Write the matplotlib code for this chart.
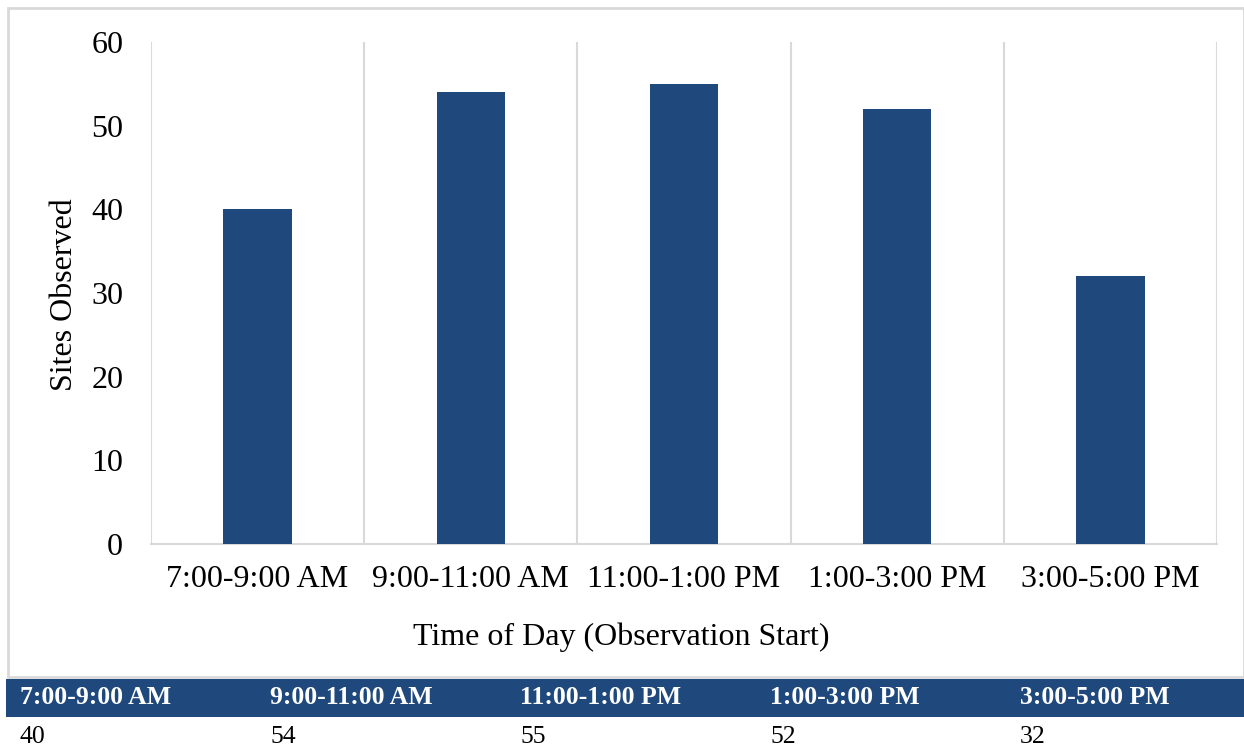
import matplotlib.pyplot as plt
from matplotlib.patches import Rectangle

# 시간대별 관측 사이트 수
time_slots = ['7:00-9:00 AM', '9:00-11:00 AM', '11:00-1:00 PM', '1:00-3:00 PM', '3:00-5:00 PM']
sites_observed = [40, 54, 55, 52, 32]
y_ticks = [0, 10, 20, 30, 40, 50, 60]

bar_color = '#1F497D'
grid_color = '#D9D9D9'

plt.rcParams['font.family'] = ['Liberation Serif', 'DejaVu Serif']

W, H = 1244, 751
fig = plt.figure(figsize=(W / 100, H / 100), dpi=100)

# 차트 영역 테두리
fig.patches.append(Rectangle((8 / W, 1 - 677 / H), (W - 8) / W, (677 - 8) / H,
                             transform=fig.transFigure, fill=False,
                             edgecolor=grid_color, linewidth=2))

ax = fig.add_axes([151 / W, 1 - 544 / H, (1217 - 151) / W, (544 - 42) / H])
x = range(len(time_slots))
ax.bar(x, sites_observed, width=0.32, color=bar_color, zorder=3)
ax.set_xlim(-0.5, len(time_slots) - 0.5)
ax.set_ylim(0, 60)
ax.set_yticks(y_ticks)
ax.set_xticks(list(x))
ax.set_xticklabels(time_slots)

# 카테고리 경계선
for b in range(len(time_slots) + 1):
    ax.axvline(b - 0.5, color=grid_color, linewidth=1.5, zorder=1)

for s in ['top', 'right', 'left']:
    ax.spines[s].set_visible(False)
ax.spines['bottom'].set_color(grid_color)
ax.spines['bottom'].set_linewidth(1.5)
ax.tick_params(axis='both', length=0, labelsize=23)
ax.tick_params(axis='y', pad=20)
ax.tick_params(axis='x', pad=15)

fig.text(65 / W, 1 - 295 / H, 'Sites Observed', rotation=90, fontsize=23,
         ha='center', va='center')
fig.text(621 / W, 1 - 637 / H, 'Time of Day (Observation Start)', fontsize=23,
         ha='center', va='center')

# 데이터 표 (머리글 + 값)
fig.patches.append(Rectangle((6 / W, 1 - 717 / H), (W - 6) / W, (717 - 679) / H,
                             transform=fig.transFigure, facecolor=bar_color,
                             edgecolor='none'))
for i, (slot, val) in enumerate(zip(time_slots, sites_observed)):
    xl = (20 + 250 * i) / W
    fig.text(xl, 1 - 698 / H, slot, color='white', fontweight='bold',
             fontsize=18.5, ha='left', va='center')
    fig.text(xl, 1 - 737 / H, str(val), color='black', fontsize=18.5,
             ha='left', va='center')

fig.savefig('out.png', dpi=100)
